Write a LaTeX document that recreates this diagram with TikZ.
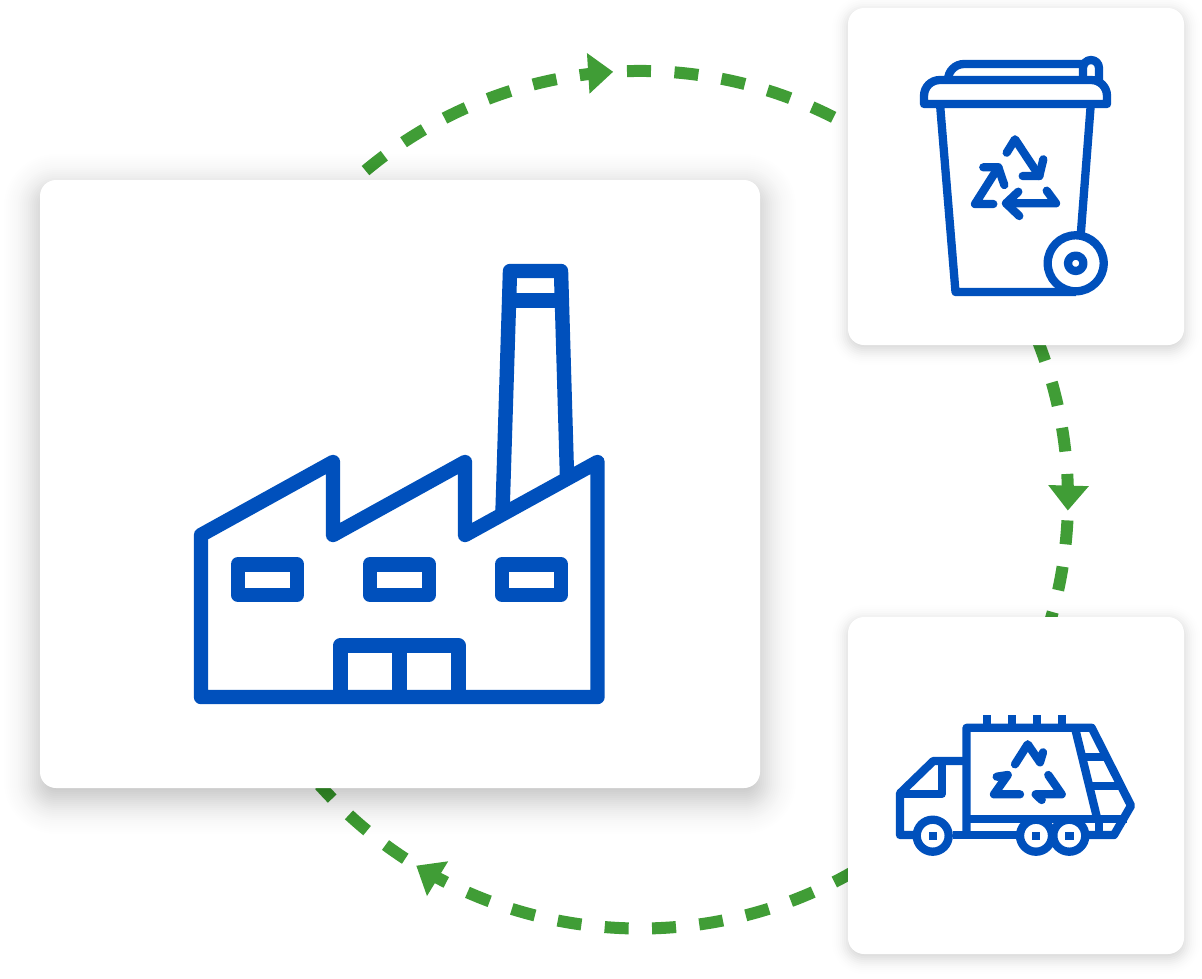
\documentclass[tikz,border=0pt]{standalone}
\usetikzlibrary{arrows.meta,decorations.markings}
\definecolor{iconblue}{RGB}{0,80,188}
\definecolor{flowgreen}{RGB}{64,157,54}
\pgfdeclarelayer{flows}
\pgfdeclarelayer{shadows}
\pgfsetlayers{flows,shadows,main}
\tikzset{
  card/.style={fill=white,draw=none,inner sep=0pt,outer sep=0pt,rounded corners=16pt},
  bigicon/.style={draw=iconblue,line width=14.4pt,line join=round},
  smallicon/.style={draw=iconblue,line width=8.3pt,line join=round},
  recycle/.style={draw=iconblue,line width=8.3pt,line join=round,line cap=round},
  flow/.style={draw=flowgreen,line width=12pt,postaction={decorate},
    decoration={markings,mark=at position #1 with {\arrow{Triangle[length=25pt,width=39pt]}}}},
}
% soft shadow of a card: (1)=node, (2)=y offset, (3)=half range, (4)=sigma, (5)=strength
\newcommand{\softshade}[5]{%
  \foreach \i in {0,...,#3}{%
    \pgfmathsetmacro{\ex}{-#3+2*\i}
    \pgfmathsetmacro{\alphaval}{#5*exp(-0.5*(\ex/#4)^2)*2/(#4*2.5066)}
    \pgfmathsetmacro{\rad}{max(16+\ex,2)}
    \fill[black,fill opacity=\alphaval,rounded corners=\rad pt]
      ([shift={({-\ex},{#2-\ex})}]#1.north west) rectangle ([shift={({\ex},{#2+\ex})}]#1.south east);
  }%
}
\begin{document}
\begin{tikzpicture}[x=1pt,y=-1pt]
\useasboundingbox (0,0) rectangle (1202,978);
\node[card,minimum width=720pt,minimum height=608pt] (factory) at (400,484) {};
\node[card,minimum width=336pt,minimum height=337pt] (bin) at (1016,176.5) {};
\node[card,minimum width=336pt,minimum height=337pt] (truck) at (1016,785.5) {};
\coordinate (f1) at ([shift={(325.5,-9.4)}]factory.north west);
\coordinate (b1) at ([shift={(-13,110)}]bin.north west);
\coordinate (b2) at ([shift={(189.4,-5)}]bin.south west);
\coordinate (t1) at ([shift={(201,8)}]truck.north west);
\coordinate (t2) at ([shift={(4,255.5)}]truck.north west);
\coordinate (f2) at ([shift={(279.6,-3)}]factory.south west);
\begin{pgfonlayer}{flows}
\fill[white] (0,0) rectangle (1202,978);
\draw[flow=0.5418,dash pattern=on 24pt off 23.5pt] (f1) .. controls (497.3,60.4) and (682.1,39.7) .. (b1);
\draw[flow=0.60,dash pattern=on 24pt off 22.5pt,dash phase=1.7pt] (b2) .. controls (1073.7,430.8) and (1077.8,531.5) .. (t1);
\draw[flow=0.7835,dash pattern=on 24pt off 23.4pt,dash phase=3.9pt] (t2) .. controls (676.1,972.4) and (454.3,935.9) .. (f2);
\end{pgfonlayer}
\begin{pgfonlayer}{shadows}
\softshade{factory}{10}{44}{19}{0.30}
\softshade{bin}{4}{20}{8}{0.19}
\softshade{truck}{4}{20}{8}{0.19}
\end{pgfonlayer}
% factory icon
\draw[bigicon] (201,697) -- (201,535) -- (333,462) -- (333,535) -- (465,462) -- (465,535) -- (597.5,462) -- (597.5,697) -- cycle;
\draw[bigicon] (502.5,512) -- (510,271) -- (561,271) -- (567,476);
\draw[bigicon] (509,300.5) -- (562,300.5);
\draw[bigicon] (237.7,564.3) rectangle (297,594.7);
\draw[bigicon] (369.7,564.3) rectangle (429,594.7);
\draw[bigicon] (501.7,564.3) rectangle (561,594.7);
\draw[bigicon] (340.3,697) -- (340.3,645.3) -- (458.3,645.3) -- (458.3,697);
\draw[bigicon] (399.3,645.3) -- (399.3,697);
% bin icon
\draw[smallicon] (924,104) -- (924,96) .. controls (924,87) and (931,80) .. (940,80) -- (1091,80) .. controls (1100,80) and (1107,87) .. (1107,96) -- (1107,104) -- cycle;
\draw[smallicon,rounded corners=16pt] (948,80) -- (948,64) -- (1083,64);
\draw[smallicon,rounded corners=8pt] (1083,80) -- (1083,60) -- (1099,60) -- (1099,80);
\draw[smallicon] (940,104) -- (955.5,292) -- (1076,292);
\draw[smallicon] (1090.8,104) -- (1080.8,234);
\draw[smallicon,fill=white] (1075.7,263.3) circle[radius=28];
\draw[smallicon] (1075.7,263.3) circle[radius=7.7];
\draw[recycle] (1006.7,152.7) -- (1015,139.3) -- (1039.3,176);
\draw[recycle] (1043.3,159.3) -- (1039.3,176) -- (1022.7,176);
\draw[recycle] (993.3,204) -- (975,204) -- (998.3,167.3);
\draw[recycle] (983.3,167.3) -- (998.3,167.3) -- (1004.3,185);
\draw[recycle] (1046.7,190.7) -- (1056,203.3) -- (1006,203.3);
\draw[recycle] (1018.3,191.7) -- (1006,203.3) -- (1019.3,216);
% truck icon
\draw[smallicon] (986.7,715) -- (986.7,728);
\draw[smallicon] (1011.7,715) -- (1011.7,728);
\draw[smallicon] (1036.7,715) -- (1036.7,728);
\draw[smallicon] (1061.7,715) -- (1061.7,728);
\draw[smallicon] (966.5,835) -- (966.5,727.8) -- (1091.7,727.8) -- (1131,805.7) -- (1114,835) -- (1086.7,835);
\draw[smallicon] (966.5,819) -- (1126.7,819);
\draw[smallicon] (1075,728) -- (1097.3,819);
\draw[smallicon] (1082,757) -- (1106.5,757);
\draw[smallicon] (1090,785.8) -- (1121,785.8);
\draw[smallicon] (1098.7,819) -- (1098.7,835);
\draw[smallicon] (916.7,835) -- (900,835) -- (900,793.3) -- (933.3,761) -- (966.5,761);
\draw[smallicon] (941.7,761) -- (941.7,794) -- (900,794);
\draw[smallicon] (953,835) -- (1016.7,835);
\draw[smallicon,fill=white] (932.7,835.7) circle[radius=16];
\draw[smallicon,fill=white] (1036,835.7) circle[radius=16];
\draw[smallicon,fill=white] (1069.3,835.7) circle[radius=16];
\fill[iconblue] (928.5,831.5) rectangle (936.9,839.9);
\fill[iconblue] (1031.8,831.5) rectangle (1040.2,839.9);
\fill[iconblue] (1065.1,831.5) rectangle (1073.5,839.9);
\draw[recycle] (1015,764.3) -- (1027.7,744.3) -- (1040,762.3) -- (1043,752.3);
\draw[recycle] (996.7,776.7) -- (1007.7,775) -- (994,794.3) -- (1020,794.3);
\draw[recycle] (1048.3,775) -- (1061.7,794.3) -- (1035.7,794.3) -- (1041.7,800);
\end{tikzpicture}
\end{document}
